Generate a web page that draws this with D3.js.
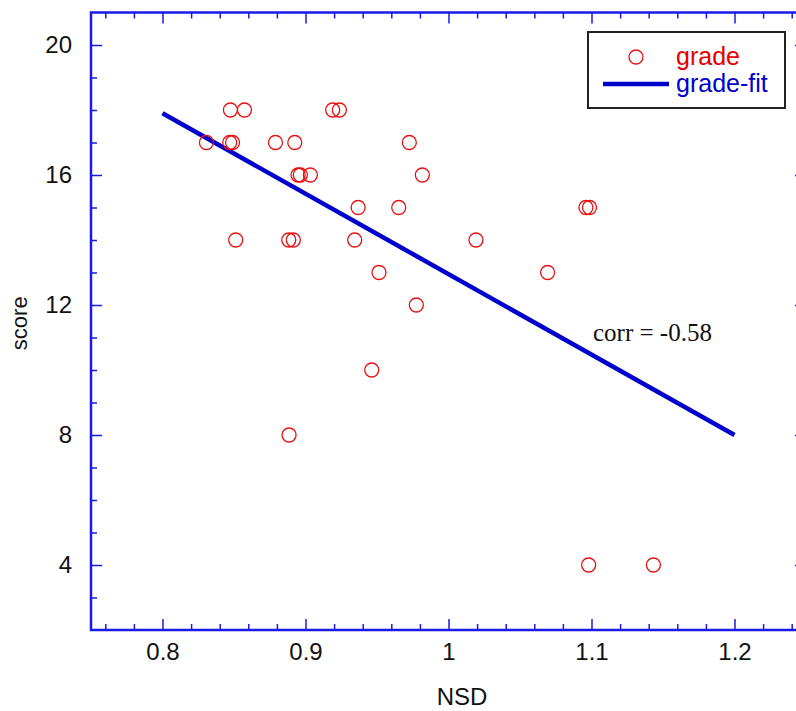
<!DOCTYPE html>
<html>
<head>
<meta charset="utf-8">
<script src="https://cdn.jsdelivr.net/npm/d3@7"></script>
<style>
  body { margin: 0; background: #fff; }
  svg { display: block; font-family: "Liberation Sans", Arial, sans-serif; }
</style>
</head>
<body>
<svg width="796" height="711"></svg>
<script>
const width = 796;
const height = 711;

// measured values (NSD, score)
const nsd = [0.8475, 0.8573, 0.919, 0.9237,
             0.8307, 0.847, 0.849, 0.879, 0.8925, 0.9726,
             0.8948, 0.8964, 0.9034, 0.9817,
             0.9368, 0.9652, 1.0961, 1.0986,
             0.8512, 0.8883, 0.8915, 0.9344, 1.0192,
             0.9514, 1.0693,
             0.9775,
             0.9463,
             0.8885,
             1.098, 1.1433];
const score = [18, 18, 18, 18,
               17, 17, 17, 17, 17, 17,
               16, 16, 16, 16,
               15, 15, 15, 15,
               14, 14, 14, 14, 14,
               13, 13,
               12,
               10,
               8,
               4, 4];

const fitX = [0.8, 1.2];
const fitY = [17.9, 8.0];

const xTicks = [0.8, 0.9, 1.0, 1.1, 1.2];
const xTickLabels = ['0.8', '0.9', '1', '1.1', '1.2'];
const yTicks = [4, 8, 12, 16, 20];

const points = nsd.map((v, i) => ({ x: v, y: score[i] }));

const plotLeft = 91, plotRight = 806, plotTop = 12.5, plotBottom = 630;

const x = d3.scaleLinear().domain([0.75, 1.25]).range([plotLeft, plotRight]);
const y = d3.scaleLinear().domain([2, 21]).range([plotBottom, plotTop]);

const svg = d3.select('svg');
const axisColor = '#1a1ae6';

const xMinor = d3.range(0.76, 1.2401, 0.02).filter(v => !xTicks.some(t => Math.abs(t - v) < 1e-6));
const yMinor = d3.range(3, 21, 1).filter(v => !yTicks.includes(v));

function styleAxis(g) {
  g.select('.domain').remove();
  g.selectAll('.tick line').attr('stroke', axisColor).attr('stroke-width', 1.5);
  g.selectAll('.tick text').attr('fill', '#111').style('font-size', '24px');
}

// bottom
svg.append('g').attr('transform', `translate(0,${plotBottom})`)
  .call(d3.axisBottom(x).tickValues(xTicks).tickFormat((d, i) => xTickLabels[i]).tickSize(-11).tickPadding(13))
  .call(styleAxis)
  .call(g => g.selectAll('.tick text').attr('dy', '0.71em'));
svg.append('g').attr('transform', `translate(0,${plotBottom})`)
  .call(d3.axisBottom(x).tickValues(xMinor).tickFormat('').tickSize(-6))
  .call(styleAxis);

// top
svg.append('g').attr('transform', `translate(0,${plotTop})`)
  .call(d3.axisTop(x).tickValues(xTicks).tickFormat('').tickSize(-11))
  .call(styleAxis);
svg.append('g').attr('transform', `translate(0,${plotTop})`)
  .call(d3.axisTop(x).tickValues(xMinor).tickFormat('').tickSize(-6))
  .call(styleAxis);

// left
svg.append('g').attr('transform', `translate(${plotLeft},0)`)
  .call(d3.axisLeft(y).tickValues(yTicks).tickSize(-11).tickPadding(19))
  .call(styleAxis);
svg.append('g').attr('transform', `translate(${plotLeft},0)`)
  .call(d3.axisLeft(y).tickValues(yMinor).tickFormat('').tickSize(-6))
  .call(styleAxis);

// right
svg.append('g').attr('transform', `translate(${plotRight},0)`)
  .call(d3.axisRight(y).tickValues(yTicks).tickFormat('').tickSize(-11))
  .call(styleAxis);
svg.append('g').attr('transform', `translate(${plotRight},0)`)
  .call(d3.axisRight(y).tickValues(yMinor).tickFormat('').tickSize(-6))
  .call(styleAxis);

// frame
svg.append('rect')
  .attr('x', plotLeft).attr('y', plotTop)
  .attr('width', plotRight - plotLeft).attr('height', plotBottom - plotTop)
  .attr('fill', 'none').attr('stroke', axisColor).attr('stroke-width', 2.5);

// axis titles
svg.append('text')
  .attr('x', 462).attr('y', 705)
  .attr('text-anchor', 'middle')
  .style('font-size', '24px').attr('fill', '#111')
  .text('NSD');

svg.append('text')
  .attr('transform', `translate(27,${(plotTop + plotBottom) / 2 + 2}) rotate(-90)`)
  .attr('text-anchor', 'middle')
  .style('font-size', '22px').attr('fill', '#111')
  .text('score');

// fit line
svg.append('line')
  .attr('x1', x(fitX[0])).attr('y1', y(fitY[0]))
  .attr('x2', x(fitX[1])).attr('y2', y(fitY[1]))
  .attr('stroke', '#0000cc').attr('stroke-width', 4.5);

// points
svg.selectAll('circle.dot')
  .data(points)
  .enter().append('circle')
  .attr('class', 'dot')
  .attr('cx', d => x(d.x))
  .attr('cy', d => y(d.y))
  .attr('r', 7)
  .attr('fill', 'none')
  .attr('stroke', '#e81010')
  .attr('stroke-width', 1.3);

// correlation note
svg.append('text')
  .attr('x', 593).attr('y', 341)
  .style('font-family', '"Liberation Serif", "Times New Roman", serif')
  .style('font-size', '25px').attr('fill', '#111')
  .text('corr = -0.58');

// legend
const legend = svg.append('g');
legend.append('rect')
  .attr('x', 588).attr('y', 32)
  .attr('width', 197).attr('height', 76)
  .attr('fill', '#fff').attr('stroke', '#222').attr('stroke-width', 2);
legend.append('circle')
  .attr('cx', 636).attr('cy', 57).attr('r', 7)
  .attr('fill', 'none').attr('stroke', '#e81010').attr('stroke-width', 1.3);
legend.append('line')
  .attr('x1', 603).attr('x2', 669).attr('y1', 84).attr('y2', 84)
  .attr('stroke', '#0000cc').attr('stroke-width', 4.5);
legend.append('text')
  .attr('x', 676).attr('y', 65)
  .style('font-size', '25px').attr('fill', '#e60000')
  .text('grade');
legend.append('text')
  .attr('x', 676).attr('y', 92)
  .style('font-size', '25px').attr('fill', '#0000cc')
  .text('grade-fit');
</script>
</body>
</html>
